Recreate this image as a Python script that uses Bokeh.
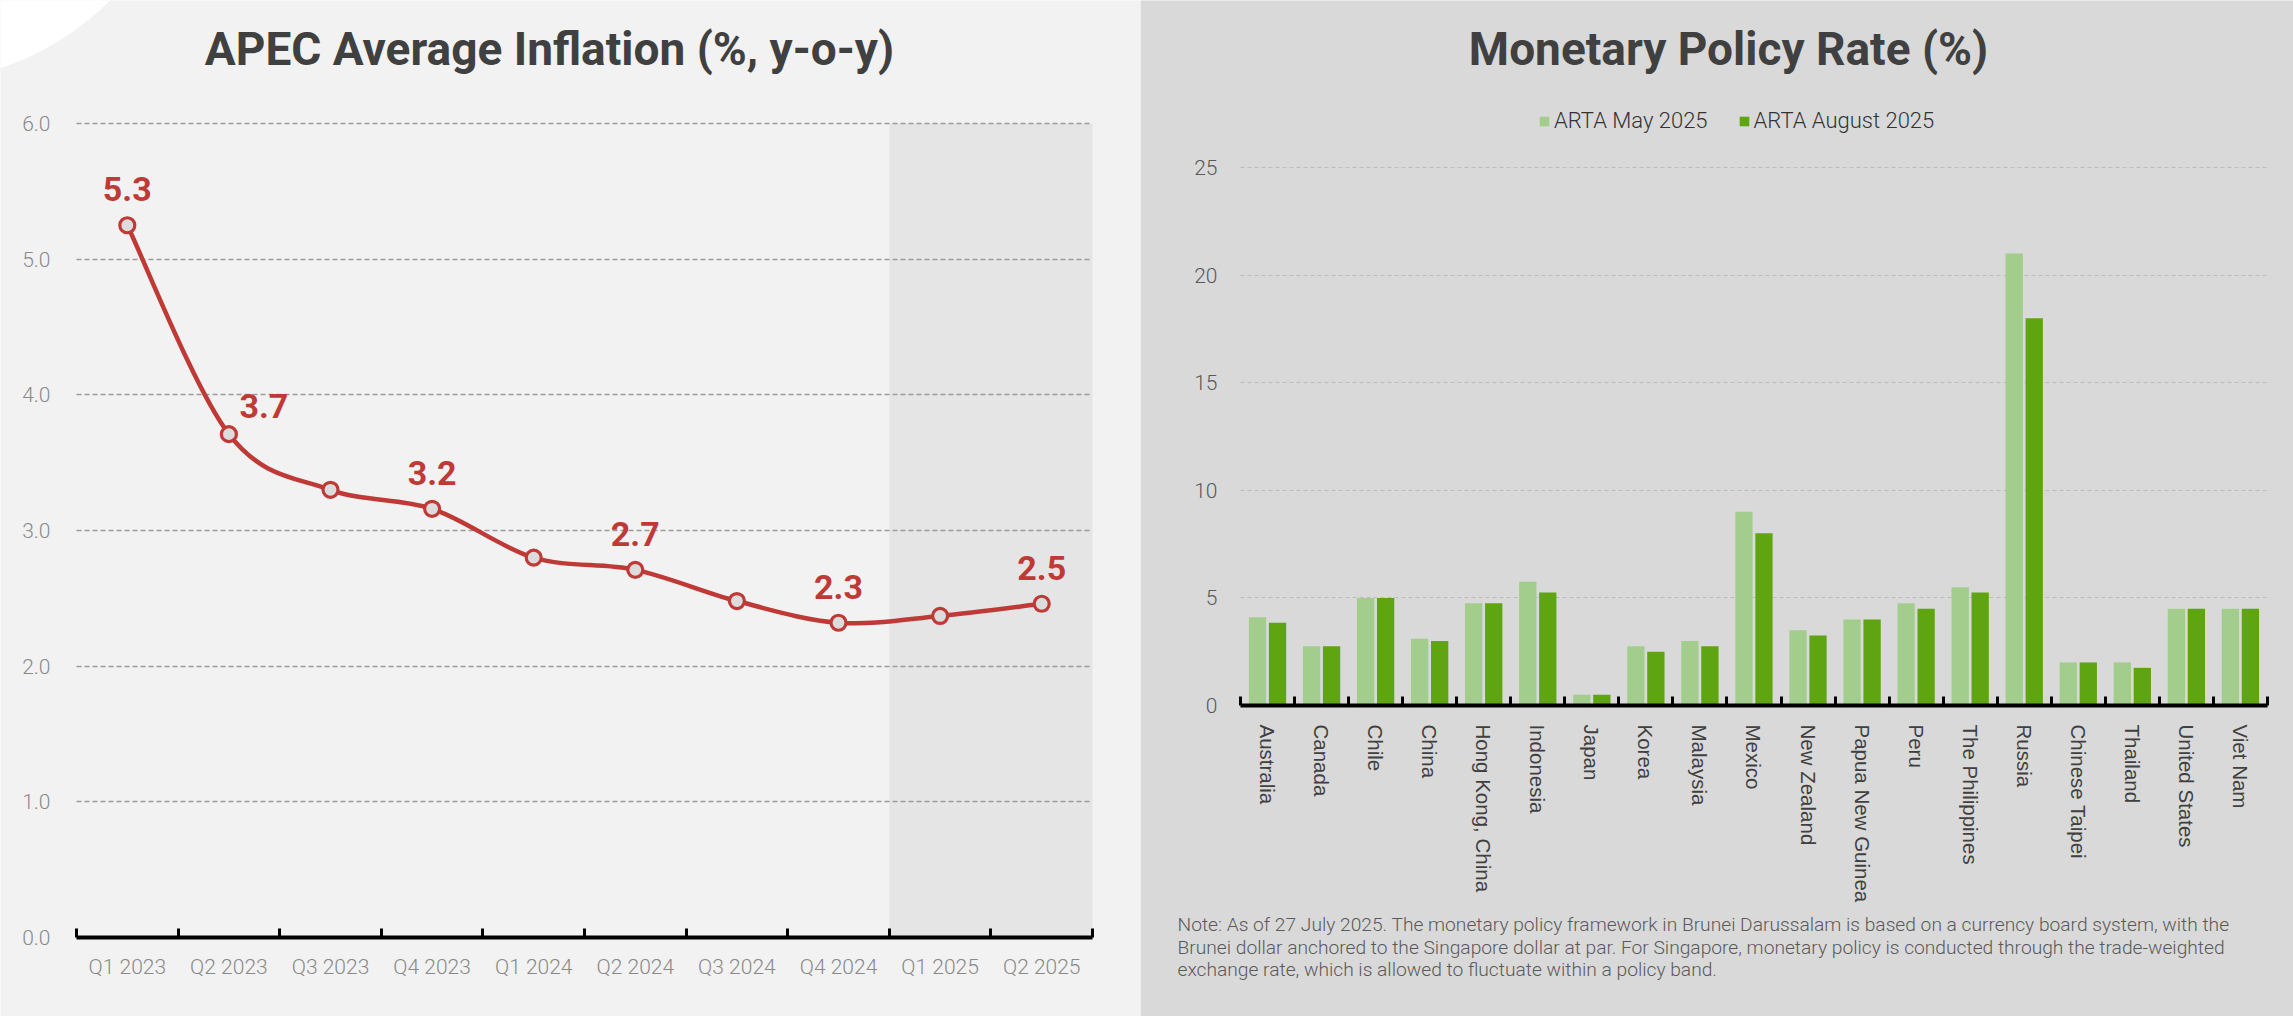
from bokeh.plotting import figure
from bokeh.models import (Range1d, FixedTicker, Label, Legend, LegendItem,
                          ColumnDataSource, NumeralTickFormatter)
from bokeh.layouts import row
from bokeh.transform import dodge
from bokeh.embed import file_html
from bokeh.resources import INLINE
from bokeh.core.properties import value

# ---------------- data ----------------
quarters = ["Q1 2023", "Q2 2023", "Q3 2023", "Q4 2023", "Q1 2024",
            "Q2 2024", "Q3 2024", "Q4 2024", "Q1 2025", "Q2 2025"]
inflation = [5.25, 3.71, 3.30, 3.16, 2.80, 2.71, 2.48, 2.32, 2.37, 2.46]
inflation_labels = ["5.3", "3.7", "", "3.2", "", "2.7", "", "2.3", "", "2.5"]
forecast_from = "Q1 2025"
inflation_ticks = [0, 1, 2, 3, 4, 5, 6]

economies = ["Australia", "Canada", "Chile", "China", "Hong Kong, China",
             "Indonesia", "Japan", "Korea", "Malaysia", "Mexico",
             "New Zealand", "Papua New Guinea", "Peru", "The Philippines",
             "Russia", "Chinese Taipei", "Thailand", "United States", "Viet Nam"]
rate_may = [4.10, 2.75, 5.00, 3.10, 4.75, 5.75, 0.50, 2.75, 3.00, 9.00,
            3.50, 4.00, 4.75, 5.50, 21.00, 2.00, 2.00, 4.50, 4.50]
rate_aug = [3.85, 2.75, 5.00, 3.00, 4.75, 5.25, 0.50, 2.50, 2.75, 8.00,
            3.25, 4.00, 4.50, 5.25, 18.00, 2.00, 1.75, 4.50, 4.50]
rate_ticks = [0, 5, 10, 15, 20, 25]
series_names = ["ARTA May 2025", "ARTA August 2025"]

title_left = "APEC Average Inflation (%, y-o-y)"
title_right = "Monetary Policy Rate (%)"
note_lines = [
    "Note: As of 27 July 2025. The monetary policy framework in Brunei Darussalam is based on a currency board system, with the",
    "Brunei dollar anchored to the Singapore dollar at par. For Singapore, monetary policy is conducted through the trade-weighted",
    "exchange rate, which is allowed to fluctuate within a policy band.",
]

# ---------------- styles ----------------
NARROW = "Noto Sans Condensed, Roboto"
LIGHT = "Roboto Light"
REG = "Liberation Sans"
RED = "#bf3a36"
TITLE_C = "#404040"
LIGHT_GREEN = "#a3cd8c"
DARK_GREEN = "#5fa511"

H = 1016


def bounded_grid(p, grid, ticks, lo, hi, color, dash, width):
    """Horizontal grid lines limited to the plotting area [lo, hi]."""
    grid.ticker = FixedTicker(ticks=ticks)
    try:
        grid.cross_bounds = (lo, hi)
        grid.grid_line_color = color
        grid.grid_line_dash = dash
        grid.grid_line_width = width
    except AttributeError:
        grid.visible = False
        p.segment(x0=[lo] * len(ticks), x1=[hi] * len(ticks), y0=ticks, y1=ticks,
                  line_color=color, line_dash=dash, line_width=width, level="underlay")


# ================= left: inflation line =================
WL = 1140
nq = len(quarters)
cw1 = 101.6          # px per category
ppu1 = 135.67        # px per y unit
plot_left1 = 76      # px from figure left to first category edge
axis_y1 = 937        # px from figure top to the zero line
x0_1 = -0.5 - plot_left1 / cw1
x1_1 = x0_1 + WL / cw1
y0_1 = -(H - axis_y1) / ppu1
y1_1 = axis_y1 / ppu1

p1 = figure(width=WL, height=H, output_backend="svg", toolbar_location=None,
            x_range=Range1d(x0_1, x1_1), y_range=Range1d(y0_1, y1_1),
            min_border_left=0, min_border_right=0, min_border_top=0,
            min_border_bottom=0,
            background_fill_color="#f2f2f2", border_fill_color="#f2f2f2",
            outline_line_color=None)

xq = list(range(nq))

# decorative white disc in the top-left corner
p1.circle(x=[x0_1 - 85 / cw1], y=[y1_1 + 193 / ppu1], radius=274,
          radius_units="screen", fill_color="white", line_color=None, level="image")

# forecast shading
fi = quarters.index(forecast_from)
p1.quad(left=[fi - 0.5], right=[nq - 0.5], bottom=[0], top=[max(inflation_ticks)],
        fill_color="#e5e5e5", line_color=None, level="image")

p1.xgrid.visible = False
bounded_grid(p1, p1.ygrid, inflation_ticks[1:], -0.5, nq - 0.5, "#9c9c9c", "5 3", 1.3)

# smooth (Catmull-Rom) curve through the data points
seg = dict(x0=[], y0=[], x1=[], y1=[], cx0=[], cy0=[], cx1=[], cy1=[])
for i in range(nq - 1):
    i0 = max(i - 1, 0)
    i3 = min(i + 2, nq - 1)
    seg["x0"].append(xq[i]); seg["y0"].append(inflation[i])
    seg["x1"].append(xq[i + 1]); seg["y1"].append(inflation[i + 1])
    seg["cx0"].append(xq[i] + (xq[i + 1] - xq[i0]) / 6)
    seg["cy0"].append(inflation[i] + (inflation[i + 1] - inflation[i0]) / 6)
    seg["cx1"].append(xq[i + 1] - (xq[i3] - xq[i]) / 6)
    seg["cy1"].append(inflation[i + 1] - (inflation[i3] - inflation[i]) / 6)
p1.bezier(x0="x0", y0="y0", x1="x1", y1="y1", cx0="cx0", cy0="cy0",
          cx1="cx1", cy1="cy1", source=ColumnDataSource(seg),
          line_color=RED, line_width=4.5, line_cap="round")
p1.scatter(x=xq, y=inflation, size=15, marker="circle", fill_color="#dcdcdc",
           line_color=RED, line_width=3.2)

lab_dx = {"3.7": 35}
lab_dy = {"3.7": -28}
lab = dict(x=[], y=[], t=[], dx=[], dy=[])
for xi, v, t in zip(xq, inflation, inflation_labels):
    if t:
        lab["x"].append(xi); lab["y"].append(v); lab["t"].append(t)
        lab["dx"].append(lab_dx.get(t, 0)); lab["dy"].append(lab_dy.get(t, -36))
p1.text(x="x", y="y", text="t", x_offset="dx", y_offset="dy",
        source=ColumnDataSource(lab), text_font=value(NARROW),
        text_font_style="bold", text_font_size="34px", text_color=RED,
        text_align="center", text_baseline="alphabetic")

# axes
p1.yaxis.fixed_location = -0.5
p1.yaxis.bounds = (0, max(inflation_ticks))
p1.yaxis.ticker = FixedTicker(ticks=inflation_ticks)
p1.yaxis.formatter = NumeralTickFormatter(format="0.0")
p1.yaxis.axis_line_color = None
p1.yaxis.major_tick_line_color = None
p1.yaxis.minor_tick_line_color = None
p1.yaxis.major_label_standoff = 20
p1.yaxis.major_label_text_font = LIGHT
p1.yaxis.major_label_text_font_size = "21px"
p1.yaxis.major_label_text_color = "#8a8a8a"

p1.xaxis.fixed_location = 0
p1.xaxis.bounds = (-0.5, nq - 0.5)
p1.xaxis.ticker = FixedTicker(ticks=xq, minor_ticks=[i - 0.5 for i in range(nq + 1)])
p1.xaxis.major_label_overrides = {i: q for i, q in zip(xq, quarters)}
p1.xaxis.axis_line_color = "black"
p1.xaxis.axis_line_width = 4
p1.xaxis.major_tick_line_color = None
p1.xaxis.minor_tick_line_color = "black"
p1.xaxis.minor_tick_line_width = 3
p1.xaxis.minor_tick_in = 9
p1.xaxis.minor_tick_out = 0
p1.xaxis.major_label_standoff = 11
p1.xaxis.major_label_text_font = LIGHT
p1.xaxis.major_label_text_font_size = "21px"
p1.xaxis.major_label_text_color = "#8a8a8a"

p1.add_layout(Label(x=549, y=968, x_units="screen", y_units="screen",
                    text=title_left, text_font=NARROW, text_font_style="bold",
                    text_font_size="46px", text_color=TITLE_C,
                    text_align="center", text_baseline="alphabetic"))

# ================= right: policy rate bars =================
WR = 1153
ne = len(economies)
cw2 = 54.05
ppu2 = 21.52
plot_left2 = 100
axis_y2 = 705
x0_2 = -0.5 - plot_left2 / cw2
x1_2 = x0_2 + WR / cw2
y0_2 = -(H - axis_y2) / ppu2
y1_2 = axis_y2 / ppu2

p2 = figure(width=WR, height=H, output_backend="svg", toolbar_location=None,
            x_range=Range1d(x0_2, x1_2), y_range=Range1d(y0_2, y1_2),
            min_border_left=0, min_border_right=0, min_border_top=0,
            min_border_bottom=0,
            background_fill_color="#d9d9d9", border_fill_color="#d9d9d9",
            outline_line_color=None)

p2.xgrid.visible = False
bounded_grid(p2, p2.ygrid, rate_ticks[1:], -0.5, ne - 0.5, "#bcbcbc", "4 3", 1)

src = ColumnDataSource(dict(x=list(range(ne)), may=rate_may, aug=rate_aug))
r_may = p2.vbar(x=dodge("x", -0.185), top="may", width=0.32, source=src,
                fill_color=LIGHT_GREEN, line_color=None)
r_aug = p2.vbar(x=dodge("x", 0.185), top="aug", width=0.32, source=src,
                fill_color=DARK_GREEN, line_color=None)

p2.yaxis.fixed_location = -0.5
p2.yaxis.bounds = (0, max(rate_ticks))
p2.yaxis.ticker = FixedTicker(ticks=rate_ticks)
p2.yaxis.axis_line_color = None
p2.yaxis.major_tick_line_color = None
p2.yaxis.minor_tick_line_color = None
p2.yaxis.major_label_standoff = 17
p2.yaxis.major_label_text_font = LIGHT
p2.yaxis.major_label_text_font_size = "21px"
p2.yaxis.major_label_text_color = "#5a5a5a"

p2.xaxis.fixed_location = 0
p2.xaxis.bounds = (-0.5, ne - 0.5)
p2.xaxis.ticker = FixedTicker(ticks=list(range(ne)),
                              minor_ticks=[i - 0.5 for i in range(ne + 1)])
p2.xaxis.major_label_overrides = {i: e for i, e in enumerate(economies)}
p2.xaxis.major_label_orientation = "vertical"
p2.xaxis.axis_line_color = "black"
p2.xaxis.axis_line_width = 4
p2.xaxis.major_tick_line_color = None
p2.xaxis.minor_tick_line_color = "black"
p2.xaxis.minor_tick_line_width = 3
p2.xaxis.minor_tick_in = 9
p2.xaxis.minor_tick_out = 0
p2.xaxis.major_label_standoff = 13
p2.xaxis.major_label_text_font = REG
p2.xaxis.major_label_text_font_size = "20.5px"
p2.xaxis.major_label_text_color = "#404040"

legend = Legend(items=[LegendItem(label=series_names[0], renderers=[r_may]),
                       LegendItem(label=series_names[1], renderers=[r_aug])],
                location=(398, 883), orientation="horizontal",
                background_fill_alpha=0, border_line_color=None,
                padding=0, margin=0, spacing=30, label_standoff=4,
                glyph_width=12, glyph_height=12, label_height=22,
                label_text_font=LIGHT, label_text_font_size="22px",
                label_text_color="#333333")
p2.add_layout(legend)

p2.add_layout(Label(x=588, y=968, x_units="screen", y_units="screen",
                    text=title_right, text_font=NARROW, text_font_style="bold",
                    text_font_size="46px", text_color=TITLE_C,
                    text_align="center", text_baseline="alphabetic"))

for k, line in enumerate(note_lines):
    p2.add_layout(Label(x=37, y=92 - 22.5 * k, x_units="screen", y_units="screen",
                        text=line, text_font=LIGHT, text_font_size="19.2px",
                        text_color="#5a5a5a", text_align="left",
                        text_baseline="alphabetic"))

layout = row(p1, p2)
open("out.html", "w").write(file_html(layout, INLINE))
